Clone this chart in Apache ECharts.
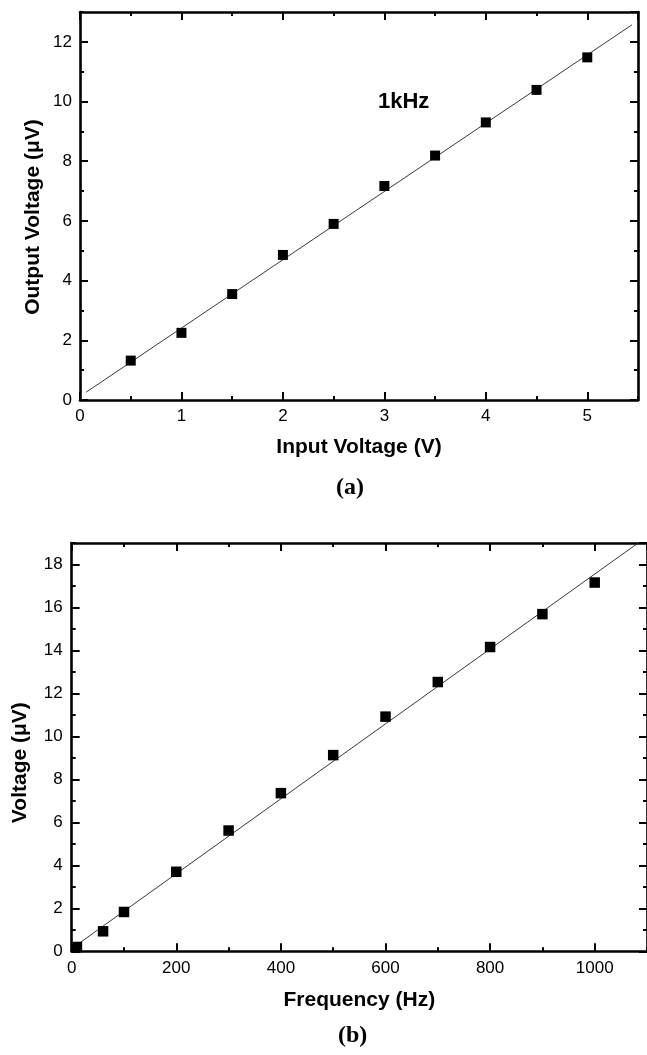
<!DOCTYPE html>
<html>
<head>
<meta charset="utf-8">
<script src="https://cdn.jsdelivr.net/npm/echarts@6/dist/echarts.min.js"></script>
<style>
  html, body { margin: 0; padding: 0; background: #fff; }
  #chart { width: 647px; height: 1055px; }
</style>
</head>
<body>
<div id="chart"></div>
<script>
// ---- Panel (a): output voltage vs input voltage at 1 kHz ----
const inputVoltage = [0.5, 1, 1.5, 2, 2.5, 3, 3.5, 4, 4.5, 5];
const outputVoltage = [1.32, 2.25, 3.55, 4.86, 5.90, 7.17, 8.19, 9.30, 10.39, 11.48];
const fitA_x = [0.06, 5.44];
const fitA_y = [0.26, 12.57];

// ---- Panel (b): voltage vs frequency ----
const frequency = [10, 60, 100, 200, 300, 400, 500, 600, 700, 800, 900, 1000];
const voltageB = [0.20, 0.93, 1.83, 3.70, 5.62, 7.36, 9.13, 10.92, 12.53, 14.16, 15.69, 17.16];
const fitB_x = [10, 1083];
const fitB_y = [0.30, 19.0];

// axis ranges / tick steps
const axA = { xMin: 0, xMax: 5.5, xMajor: 1, xMinor: 0.5, yMin: 0, yMax: 13, yMajor: 2, yMinor: 1 };
const axB = { xMin: 0, xMax: 1100, xMajor: 200, xMinor: 100, yMin: 0, yMax: 19, yMajor: 2, yMinor: 1 };

const labels = {
  aX: 'Input Voltage (V)', aY: 'Output Voltage (\u03bcV)', aNote: '1kHz', aPanel: '(a)',
  bX: 'Frequency (Hz)', bY: 'Voltage (\u03bcV)', bPanel: '(b)'
};

const SANS = '"Liberation Sans", Arial, Helvetica, sans-serif';
const SERIF = '"Liberation Serif", "Times New Roman", serif';

function pairs(xs, ys) { return xs.map((x, i) => [x, ys[i]]); }

function axisSet(dim, grid, r, opts) {
  const min = dim === 'x' ? r.xMin : r.yMin;
  const max = dim === 'x' ? r.xMax : r.yMax;
  const major = dim === 'x' ? r.xMajor : r.yMajor;
  const minor = dim === 'x' ? r.xMinor : r.yMinor;
  const posMain = dim === 'x' ? 'bottom' : 'left';
  const posMirror = dim === 'x' ? 'top' : 'right';
  const line = { show: true, onZero: false, lineStyle: { color: '#000', width: 2.6 } };
  const noLine = { show: false, onZero: false };
  const base = { type: 'value', gridIndex: grid, min: min, max: max, splitLine: { show: false } };
  const mainAxis = Object.assign({}, base, {
    position: posMain, interval: major, axisLine: line,
    axisTick: { show: true, inside: true, length: 8, lineStyle: { color: '#000', width: 2 } },
    axisLabel: { show: true, color: '#000', fontFamily: SANS, fontSize: 17, margin: opts.labelMargin,
      showMaxLabel: false, formatter: function (v) { return String(v); } },
    name: opts.name, nameLocation: 'middle', nameGap: opts.nameGap, nameMoveOverlap: false,
    nameTextStyle: Object.assign({ color: '#000', fontFamily: SANS, fontWeight: 'bold', fontSize: 21 }, opts.nameStyle || {})
  });
  const mainMinor = Object.assign({}, base, {
    position: posMain, interval: minor, axisLine: noLine,
    axisTick: { show: true, inside: true, length: 4, lineStyle: { color: '#000', width: 2 } },
    axisLabel: { show: false }
  });
  const mirror = Object.assign({}, base, {
    position: posMirror, interval: major, axisLine: line,
    axisTick: { show: true, inside: true, length: 8, lineStyle: { color: '#000', width: 2 } },
    axisLabel: { show: false }
  });
  const mirrorMinor = Object.assign({}, base, {
    position: posMirror, interval: minor, axisLine: noLine,
    axisTick: { show: true, inside: true, length: 4, lineStyle: { color: '#000', width: 2 } },
    axisLabel: { show: false }
  });
  return [mainAxis, mainMinor, mirror, mirrorMinor];
}

const xAxes = [].concat(
  axisSet('x', 0, axA, { name: labels.aX, nameGap: 37, labelMargin: 8 }),
  axisSet('x', 1, axB, { name: labels.bX, nameGap: 38, labelMargin: 9 })
);
const yAxes = [].concat(
  axisSet('y', 0, axA, { name: labels.aY, nameGap: 36, labelMargin: 8, nameStyle: { padding: [0, 22, 0, 0] } }),
  axisSet('y', 1, axB, { name: labels.bY, nameGap: 41, labelMargin: 9, nameStyle: { padding: [0, 31, 0, 0] } })
);

const chart = echarts.init(document.getElementById('chart'), null, { renderer: 'canvas', width: 647, height: 1055 });
chart.setOption({
  backgroundColor: '#fff',
  animation: false,
  grid: [
    { left: 80, top: 12, width: 558, height: 388 },
    { left: 71.7, top: 543, width: 580.3, height: 408.3 }
  ],
  xAxis: xAxes,
  yAxis: yAxes,
  series: [
    { type: 'line', xAxisIndex: 0, yAxisIndex: 0, data: pairs(fitA_x, fitA_y), symbol: 'none',
      lineStyle: { color: '#222', width: 0.9 }, z: 2, silent: true },
    { type: 'scatter', xAxisIndex: 0, yAxisIndex: 0, data: pairs(inputVoltage, outputVoltage),
      symbol: 'rect', symbolSize: 10, itemStyle: { color: '#000', opacity: 1 }, z: 3 },
    { type: 'line', xAxisIndex: 4, yAxisIndex: 4, data: pairs(fitB_x, fitB_y), symbol: 'none', clip: true,
      lineStyle: { color: '#222', width: 0.9 }, z: 2, silent: true },
    { type: 'scatter', xAxisIndex: 4, yAxisIndex: 4, data: pairs(frequency, voltageB),
      symbol: 'rect', symbolSize: 10.5, itemStyle: { color: '#000', opacity: 1 }, z: 3 }
  ],
  graphic: [
    { type: 'text', left: 378, top: 91, style: { text: labels.aNote, fill: '#000', font: 'bold 22px ' + SANS } },
    { type: 'text', left: 336, top: 476, style: { text: labels.aPanel, fill: '#000', font: 'bold 24px ' + SERIF } },
    { type: 'text', left: 338, top: 1024, style: { text: labels.bPanel, fill: '#000', font: 'bold 24px ' + SERIF } }
  ]
});
</script>
</body>
</html>
